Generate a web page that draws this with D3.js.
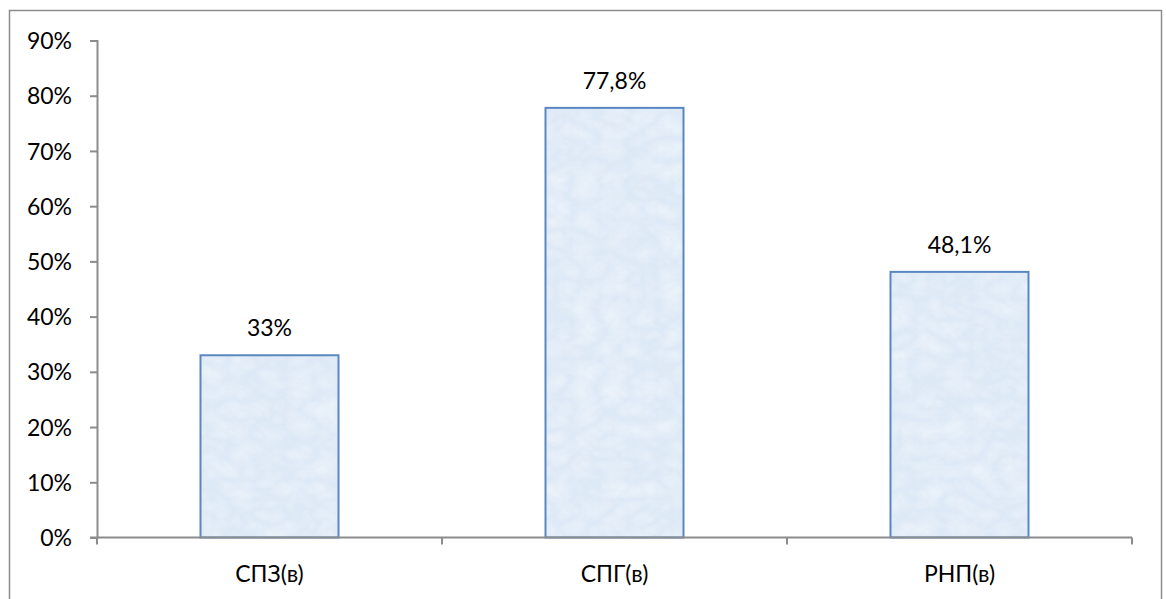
<!DOCTYPE html>
<html>
<head>
<meta charset="utf-8">
<script src="https://cdn.jsdelivr.net/npm/d3@7"></script>
<style>
  html, body { margin: 0; padding: 0; background: #fff; }
  svg { display: block; }
  text { font-family: Lato, "Liberation Sans", sans-serif; fill: #000; }
</style>
</head>
<body>
<svg id="chart" width="1166" height="599"></svg>
<script>
// Share of respondents by scale
const categories = ["СПЗ(в)", "СПГ(в)", "РНП(в)"];
const values = [33, 77.8, 48.1];
const valueLabels = ["33%", "77,8%", "48,1%"];
const yTicks = [0, 10, 20, 30, 40, 50, 60, 70, 80, 90];

const W = 1166, H = 599;
const plot = { left: 97, right: 1132, top: 40.5, bottom: 537.5 };

const svg = d3.select("#chart");

// Paper-like mottled texture for the bars
const defs = svg.append("defs");
const dark = defs.append("filter").attr("id", "mottleDark")
  .attr("x", 0).attr("y", 0).attr("width", 1).attr("height", 1);
dark.append("feTurbulence").attr("type", "fractalNoise")
  .attr("baseFrequency", "0.06").attr("numOctaves", 4).attr("seed", 7).attr("result", "n");
dark.append("feColorMatrix").attr("in", "n").attr("type", "matrix")
  .attr("values", "0 0 0 0 0.76  0 0 0 0 0.82  0 0 0 0 0.91  2.0 0 0 0 -0.9")
  .attr("result", "c");
dark.append("feComposite").attr("in", "c").attr("in2", "SourceGraphic").attr("operator", "in");

const light = defs.append("filter").attr("id", "mottleLight")
  .attr("x", 0).attr("y", 0).attr("width", 1).attr("height", 1);
light.append("feTurbulence").attr("type", "turbulence")
  .attr("baseFrequency", "0.035 0.05").attr("numOctaves", 3).attr("seed", 21).attr("result", "n");
light.append("feColorMatrix").attr("in", "n").attr("type", "matrix")
  .attr("values", "0 0 0 0 0.97  0 0 0 0 0.99  0 0 0 0 1  0 0 1.6 0 -0.15")
  .attr("result", "c");
light.append("feComposite").attr("in", "c").attr("in2", "SourceGraphic").attr("operator", "in");

// Outer frame
svg.append("rect")
  .attr("x", 9.5).attr("y", 10.5)
  .attr("width", 1152).attr("height", 600)
  .attr("fill", "none").attr("stroke", "#8c8c8c").attr("stroke-width", 1.5);

const x = d3.scaleBand().domain(categories)
  .range([plot.left, plot.right]).paddingInner(0.6).paddingOuter(0.3);
const xOuter = d3.scaleBand().domain(categories).range([plot.left, plot.right]);
const y = d3.scaleLinear().domain([0, 90]).range([plot.bottom, plot.top]);

// Bars
const bars = svg.append("g");
categories.forEach((c, i) => {
  const bx = x(c), bw = x.bandwidth(), by = y(values[i]), bh = y(0) - y(values[i]);
  bars.append("rect").attr("x", bx).attr("y", by).attr("width", bw).attr("height", bh)
    .attr("fill", "#dde9f6");
  bars.append("rect").attr("x", bx).attr("y", by).attr("width", bw).attr("height", bh)
    .attr("fill", "#fff").attr("filter", "url(#mottleDark)").attr("opacity", 0.85);
  bars.append("rect").attr("x", bx).attr("y", by).attr("width", bw).attr("height", bh)
    .attr("fill", "#fff").attr("filter", "url(#mottleLight)").attr("opacity", 0.4);
  bars.append("rect").attr("x", bx).attr("y", by).attr("width", bw).attr("height", bh)
    .attr("fill", "none").attr("stroke", "#5a87c2").attr("stroke-width", 2);
});

// Y axis
const yAxis = d3.axisLeft(y).tickValues(yTicks).tickFormat(d => d + "%")
  .tickSize(7).tickPadding(18);
const gy = svg.append("g").attr("transform", `translate(${plot.left},0)`).call(yAxis);
gy.select(".domain").attr("stroke", "#8c8c8c").attr("stroke-width", 2);
gy.selectAll(".tick line").attr("stroke", "#8c8c8c").attr("stroke-width", 2);
gy.selectAll(".tick text").attr("font-size", 23).attr("font-family", "Lato, sans-serif")
  .attr("fill", "#000").attr("dy", "0.35em");

// X axis: tick marks at category boundaries
const boundaries = categories.map(c => xOuter(c)).concat([plot.right]);
const gx = svg.append("g");
gx.append("line").attr("x1", plot.left - 7).attr("x2", plot.right)
  .attr("y1", plot.bottom).attr("y2", plot.bottom)
  .attr("stroke", "#8c8c8c").attr("stroke-width", 2);
gx.selectAll("line.tk").data(boundaries).join("line").attr("class", "tk")
  .attr("x1", d => d).attr("x2", d => d)
  .attr("y1", plot.bottom).attr("y2", plot.bottom + 7)
  .attr("stroke", "#8c8c8c").attr("stroke-width", 2);
gx.selectAll("text").data(categories).join("text")
  .attr("x", d => xOuter(d) + xOuter.bandwidth() / 2)
  .attr("y", 582)
  .attr("text-anchor", "middle").attr("font-size", 23)
  .text(d => d);

// Value labels
svg.append("g").selectAll("text").data(categories).join("text")
  .attr("x", d => x(d) + x.bandwidth() / 2)
  .attr("y", (d, i) => y(values[i]) - 19)
  .attr("text-anchor", "middle").attr("font-size", 23)
  .text((d, i) => valueLabels[i]);
</script>
</body>
</html>
